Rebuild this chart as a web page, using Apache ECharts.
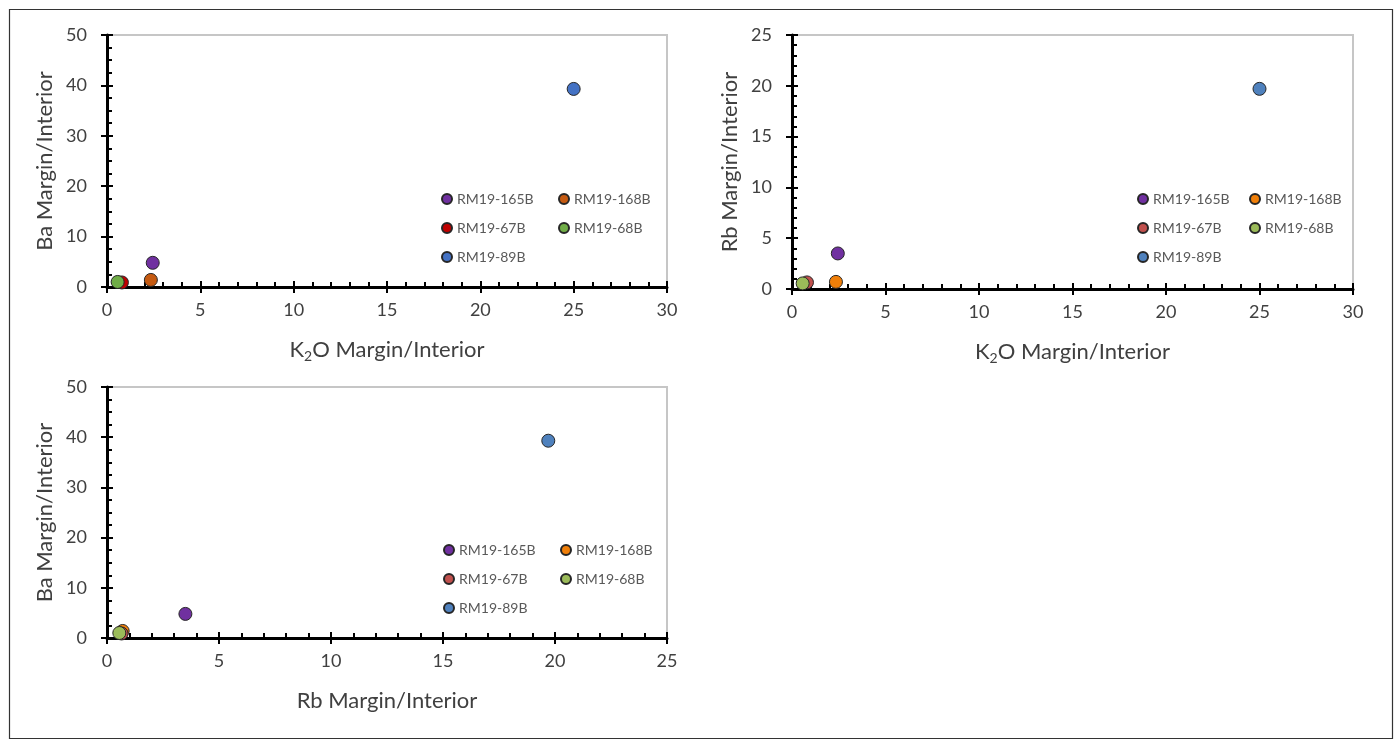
<!DOCTYPE html>
<html>
<head>
<meta charset="utf-8">
<script src="https://cdn.jsdelivr.net/npm/echarts@6/dist/echarts.min.js"></script>
<style>
  html, body { margin: 0; padding: 0; background: #fff; }
  #main { width: 1397px; height: 740px; }
</style>
</head>
<body>
<div id="main"></div>
<script>
// ratios margin / interior, one entry per sample
const samples = ['RM19-165B', 'RM19-168B', 'RM19-67B', 'RM19-68B', 'RM19-89B'];
const k2oRatio = [2.45, 2.35, 0.8, 0.57, 25.0];
const baRatio = [4.8, 1.4, 0.9, 1.0, 39.3];
const rbRatio = [3.5, 0.7, 0.65, 0.55, 19.7];

const coloursA = ['#7030A0', '#C55A11', '#C00000', '#70AD47', '#4472C4'];
const coloursB = ['#7030A0', '#F07F09', '#C0504D', '#9BBB59', '#4F81BD'];

const FONT = 'Lato';

// one entry per panel
const panels = [
  { x: k2oRatio, y: baRatio, colours: coloursA,
    grid: { left: 107, top: 35, width: 560, height: 252 },
    xMax: 30, xInt: 5, xMinor: 5, yMax: 50, yInt: 10, yMinor: 4,
    xName: '{n|K}{s|2}{n|O Margin/Interior}', yName: 'Ba Margin/Interior',
    legendX: [446, 563], legendY: [199, 228, 257] },
  { x: k2oRatio, y: rbRatio, colours: coloursB,
    grid: { left: 792, top: 35, width: 561, height: 254 },
    xMax: 30, xInt: 5, xMinor: 5, yMax: 25, yInt: 5, yMinor: 5,
    xName: '{n|K}{s|2}{n|O Margin/Interior}', yName: 'Rb Margin/Interior',
    legendX: [1142, 1254], legendY: [199, 228, 257] },
  { x: rbRatio, y: baRatio, colours: coloursB,
    grid: { left: 107, top: 387, width: 560, height: 251 },
    xMax: 25, xInt: 5, xMinor: 5, yMax: 50, yInt: 10, yMinor: 4,
    xName: '{n|Rb Margin/Interior}', yName: 'Ba Margin/Interior',
    legendX: [448, 565], legendY: [550, 579, 608] }
];

const nameRich = {
  n: { fontSize: 22, fontFamily: FONT, color: '#404040', lineHeight: 26 },
  s: { fontSize: 14, fontFamily: FONT, color: '#404040', lineHeight: 15, verticalAlign: 'bottom' }
};

const grids = [], xAxes = [], yAxes = [], series = [], legends = [];

panels.forEach(function (p, g) {
  grids.push(Object.assign({ show: true, borderColor: '#c6c6c6', borderWidth: 2, backgroundColor: 'transparent' }, p.grid));

  // main axes: line, labels, inside ticks + minor ticks
  xAxes.push({
    type: 'value', gridIndex: g, min: 0, max: p.xMax, interval: p.xInt,
    name: p.xName, nameLocation: 'middle', nameGap: 50,
    nameTextStyle: { rich: nameRich },
    axisLine: { show: true, onZero: false, lineStyle: { color: '#000', width: 3 } },
    axisTick: { show: true, inside: true, length: 6, lineStyle: { color: '#000', width: 2 } },
    minorTick: { show: true, splitNumber: p.xMinor, length: 5, lineStyle: { color: '#000', width: 2 } },
    axisLabel: { color: '#404040', fontSize: 18, fontFamily: FONT, margin: 14 },
    splitLine: { show: false }
  });
  yAxes.push({
    type: 'value', gridIndex: g, min: 0, max: p.yMax, interval: p.yInt,
    name: p.yName, nameLocation: 'middle', nameGap: 51,
    nameTextStyle: { fontSize: 22, fontFamily: FONT, color: '#404040' },
    axisLine: { show: true, onZero: false, lineStyle: { color: '#000', width: 3 } },
    axisTick: { show: true, inside: true, length: 6, lineStyle: { color: '#000', width: 2 } },
    minorTick: { show: true, splitNumber: p.yMinor, length: 5, lineStyle: { color: '#000', width: 2 } },
    axisLabel: { color: '#404040', fontSize: 18, fontFamily: FONT, margin: 20 },
    splitLine: { show: false }
  });
  // overlay axes: only the outside half of the major ticks
  xAxes.push({
    type: 'value', gridIndex: g, position: 'bottom', min: 0, max: p.xMax, interval: p.xInt,
    axisLine: { show: false, onZero: false },
    axisTick: { show: true, inside: false, length: 6, lineStyle: { color: '#000', width: 2 } },
    axisLabel: { show: false }, splitLine: { show: false }
  });
  yAxes.push({
    type: 'value', gridIndex: g, position: 'left', min: 0, max: p.yMax, interval: p.yInt,
    axisLine: { show: false, onZero: false },
    axisTick: { show: true, inside: false, length: 6, lineStyle: { color: '#000', width: 2 } },
    axisLabel: { show: false }, splitLine: { show: false }
  });

  samples.forEach(function (s, i) {
    const name = s + '#' + g;
    series.push({
      name: name, type: 'scatter', xAxisIndex: g * 2, yAxisIndex: g * 2,
      symbol: 'circle', symbolSize: 13,
      itemStyle: { color: p.colours[i], borderColor: '#262626', borderWidth: 1, opacity: 1 },
      data: [[p.x[i], p.y[i]]],
      z: 3
    });
    const col = i % 2, row = Math.floor(i / 2);
    legends.push({
      data: [name], selectedMode: false, padding: 0,
      left: p.legendX[col] - 5, top: p.legendY[row] - 8,
      icon: 'circle', itemWidth: 10, itemHeight: 10, itemGap: 4,
      formatter: function (n) { return n.split('#')[0]; },
      textStyle: { color: '#595959', fontSize: 14, fontFamily: FONT, lineHeight: 16 }
    });
  });
});

const chart = echarts.init(document.getElementById('main'));
chart.setOption({
  backgroundColor: '#fff',
  animation: false,
  grid: grids,
  xAxis: xAxes,
  yAxis: yAxes,
  legend: legends,
  series: series,
  graphic: [{
    type: 'rect', left: 7, top: 7, z: 0,
    shape: { width: 1383, height: 729 },
    style: { fill: 'none', stroke: '#333', lineWidth: 1.2 }
  }]
});
</script>
</body>
</html>
